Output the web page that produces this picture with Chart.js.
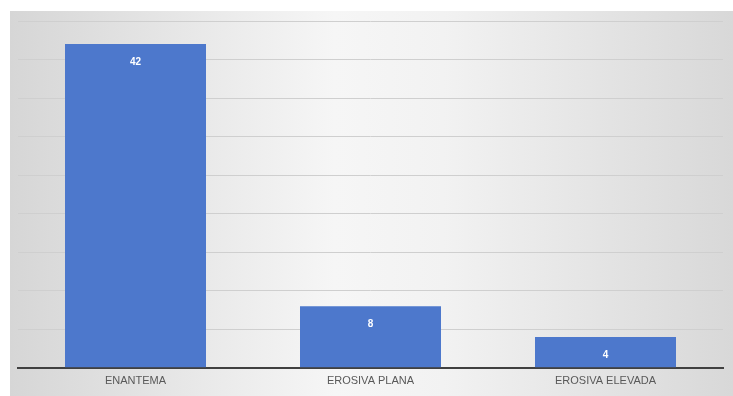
<!DOCTYPE html>
<html>
<head>
<meta charset="utf-8">
<script src="https://cdn.jsdelivr.net/npm/chart.js@4"></script>
<style>
  html, body { margin: 0; padding: 0; background: #ffffff; }
  #wrap { width: 733px; height: 396px; }
</style>
</head>
<body>
<div id="wrap"><canvas id="chart"></canvas></div>
<script>
var categories = ['ENANTEMA', 'EROSIVA PLANA', 'EROSIVA ELEVADA'];
var counts = [42, 8, 4];
var yMax = 45;
var yStep = 5;

// grey-white-grey backdrop behind the plot, like the office chart style
var backdrop = {
    id: 'backdrop',
    beforeDraw: function(chart) {
        var ctx = chart.ctx;
        var w = chart.width, h = chart.height;
        var g = ctx.createLinearGradient(10, 0, w, 0);
        g.addColorStop(0, '#d6d6d6');
        g.addColorStop(0.45, '#f6f6f6');
        g.addColorStop(0.6, '#f2f2f2');
        g.addColorStop(1, '#d8d8d8');
        ctx.save();
        ctx.fillStyle = g;
        ctx.fillRect(10, 11, w - 10, h - 11);
        ctx.restore();
    }
};

// value labels inside the top of each bar
var barLabels = {
    id: 'barLabels',
    afterDatasetsDraw: function(chart) {
        var ctx = chart.ctx;
        var meta = chart.getDatasetMeta(0);
        ctx.save();
        ctx.fillStyle = '#ffffff';
        ctx.font = 'bold 10px "Liberation Sans", Arial, sans-serif';
        ctx.textAlign = 'center';
        ctx.textBaseline = 'middle';
        meta.data.forEach(function(bar, i) {
            ctx.fillText(String(counts[i]), bar.x, bar.y + 18);
        });
        ctx.restore();
    }
};

new Chart(document.getElementById('chart'), {
    type: 'bar',
    data: {
        labels: categories,
        datasets: [{
            data: counts,
            backgroundColor: '#4d78cc',
            borderWidth: 0,
            categoryPercentage: 0.6,
            barPercentage: 1.0
        }]
    },
    options: {
        responsive: true,
        maintainAspectRatio: false,
        animation: false,
        layout: { padding: { left: 18, right: 10, top: 21, bottom: 1 } },
        plugins: {
            legend: { display: false },
            tooltip: { enabled: false }
        },
        scales: {
            x: {
                grid: { display: false, drawTicks: false },
                border: { display: true, color: '#404040', width: 2 },
                ticks: {
                    color: '#595959',
                    padding: 7,
                    font: { family: '"Liberation Sans", Arial, sans-serif', size: 11 }
                }
            },
            y: {
                display: true,
                min: 0,
                max: yMax,
                ticks: { display: false, stepSize: yStep },
                grid: { color: '#cfcfcf', lineWidth: 1, drawTicks: false },
                border: { display: false }
            }
        }
    },
    plugins: [backdrop, barLabels]
});
</script>
</body>
</html>
